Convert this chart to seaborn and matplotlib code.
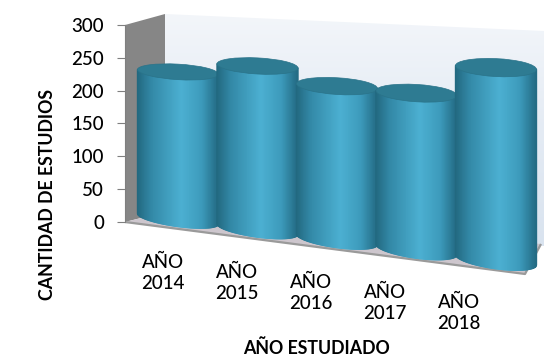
import numpy as np
import matplotlib
matplotlib.use("Agg")
import matplotlib.pyplot as plt
import seaborn as sns
from matplotlib.transforms import Transform, Affine2D, blended_transform_factory
from matplotlib.patches import Polygon, Ellipse
from matplotlib.collections import PolyCollection
from matplotlib.colors import LinearSegmentedColormap

# ---- data -------------------------------------------------------------
years = ["AÑO\n2014", "AÑO\n2015", "AÑO\n2016", "AÑO\n2017", "AÑO\n2018"]
estudios = [218, 233, 211, 208, 247]
yticks = [0, 50, 100, 150, 200, 250, 300]

W, H, DPI = 544, 359, 100

sns.set_theme(style="white")
plt.rcParams["font.family"] = ["Lato", "DejaVu Sans"]

fig = plt.figure(figsize=(W / DPI, H / DPI), dpi=DPI)
fig.patch.set_facecolor("white")

# helper: pixel coordinates measured from the top-left corner of the figure
pix = Affine2D().scale(1 / W, -1 / H).translate(0, 1) + fig.transFigure

# ---- 3-D box: back wall, side wall and floor --------------------------
bg = fig.add_axes([0, 0, 1, 1], zorder=0)
bg.set_xlim(0, W)
bg.set_ylim(H, 0)
bg.axis("off")

back = Polygon([(165, 14), (544, 31), (544, 246), (165, 212)], closed=True,
               facecolor="none", edgecolor="none")
bg.add_patch(back)
grad = np.linspace(0, 1, 256).reshape(-1, 1)
wall_cmap = LinearSegmentedColormap.from_list("wall", ["#f3f6fa", "#e4ebf4", "#d9e3ef"])
im = bg.imshow(grad, extent=(165, 544, 246, 14), cmap=wall_cmap, aspect="auto", zorder=1)
im.set_clip_path(back)

bg.add_patch(Polygon([(125, 25), (165, 14), (165, 212), (125, 222)], closed=True,
                     facecolor="#868686", edgecolor="none", zorder=2))
bg.add_patch(Polygon([(125, 222), (525, 274), (541, 244), (165, 212)], closed=True,
                     facecolor="#cdc6cd", edgecolor="none", zorder=2))
bg.plot([125, 525, 541], [222, 274, 244], color="#9a9a9a", lw=1.6, zorder=2,
        solid_capstyle="butt")

# ---- main axes ---------------------------------------------------------
ax_left, ax_right, ax_top, ax_bottom = 125, 540, 25, 222
ax = fig.add_axes([ax_left / W, (H - ax_bottom) / H,
                   (ax_right - ax_left) / W, (ax_bottom - ax_top) / H], zorder=2)
ax.set_facecolor("none")

sns.barplot(x=years, y=estudios, ax=ax, width=1.02, color="#46a7c9")

unit = 79.5            # pixels per category step
first_center = 178     # pixel x of the first category
xmin = -(first_center - ax_left) / unit
ax.set_xlim(xmin, xmin + (ax_right - ax_left) / unit)
ax.set_ylim(0, 300)
ax.set_yticks(yticks)
ax.set_yticklabels([str(t) for t in yticks], fontsize=13.5, color="#000000",
                   fontweight="medium")
ax.tick_params(axis="y", direction="out", length=6, width=0.8, color="#7f7f7f", pad=9,
               left=True)
labels = [t.get_text() for t in ax.get_xticklabels()]
ax.tick_params(axis="x", length=0, labelbottom=False)
ax.set_xlabel("")
ax.set_ylabel("")
for side in ["top", "right", "bottom"]:
    ax.spines[side].set_visible(False)
ax.spines["left"].set_color("#7f7f7f")
ax.spines["left"].set_linewidth(0.8)


# ---- perspective for the floor plane -----------------------------------
class FloorPerspective(Transform):
    """Tilts the floor down to the right and enlarges nearer columns."""
    input_dims = output_dims = 2
    is_separable = False
    has_inverse = False

    def __init__(self, x0, y0, lift, slope, grow):
        super().__init__()
        self._x0, self._y0 = x0, y0
        self._lift, self._slope, self._grow = lift, slope, grow

    def transform_non_affine(self, values):
        v = np.asarray(values, dtype=float).reshape(-1, 2)
        x, y = v[:, 0], v[:, 1]
        dx = x - self._x0
        s = 1 + self._grow * dx
        return np.column_stack([x, self._y0 + self._lift - self._slope * dx
                                + (y - self._y0) * s])


fig.canvas.draw()
x0_disp, y0_disp = ax.transData.transform((xmin, 0))
persp = FloorPerspective(x0_disp, y0_disp, lift=10, slope=0.129, grow=0.0005)
trans = ax.transData + persp

# ---- cylinders ---------------------------------------------------------
body_cmap = LinearSegmentedColormap.from_list(
    "body", [(0.0, "#22687f"), (0.18, "#3389a7"), (0.55, "#4cb0d2"),
             (0.8, "#3d9bbc"), (1.0, "#236b84")])
cap_color = "#2e7b92"
e = 11.5        # half-height of the elliptical ends, in value units
nstrip = 90

for i, bar in enumerate(list(ax.patches)):
    bar.set_visible(False)
    xb, w, h = bar.get_x(), bar.get_width(), bar.get_height()
    xc, r = xb + w / 2, w / 2
    t = np.linspace(-1, 1, nstrip + 1)
    curve = -e * np.sqrt(np.clip(1 - t ** 2, 0, 1))
    polys, cols = [], []
    for k in range(nstrip):
        xa, xb2 = xc + t[k] * r, xc + t[k + 1] * r
        polys.append([(xa, curve[k]), (xb2, curve[k + 1]), (xb2, h), (xa, h)])
        cols.append(body_cmap((t[k] + t[k + 1]) / 4 + 0.5))
    pc = PolyCollection(polys, facecolors=cols, edgecolors=cols, linewidths=0.9,
                        transform=trans, zorder=3 + i * 0.1, clip_on=False)
    ax.add_collection(pc)
    cap = Ellipse((xc, h), width=w, height=2 * e, facecolor=cap_color,
                  edgecolor="#2a7389", linewidth=0.5, transform=trans,
                  zorder=3.05 + i * 0.1, clip_on=False)
    ax.add_patch(cap)

# ---- category labels along the tilted floor ----------------------------
lab_trans = blended_transform_factory(ax.transData, pix)
for i, lab in enumerate(labels):
    ax.text(-0.19 + 0.93 * i, 273 + 10 * i, lab, transform=lab_trans,
            ha="center", va="center", fontsize=13.5, color="#000000",
            fontweight="medium", linespacing=1.3, clip_on=False)

# ---- axis titles -------------------------------------------------------
fig.text(48, 194, "CANTIDAD DE ESTUDIOS", transform=pix, rotation=90,
         ha="center", va="center", fontsize=12.8, fontweight="bold", color="#000000")
fig.text(316, 348, "AÑO ESTUDIADO", transform=pix, ha="center", va="center",
         fontsize=12.8, fontweight="bold", color="#000000")

fig.savefig("out.png", dpi=DPI, facecolor="white")
